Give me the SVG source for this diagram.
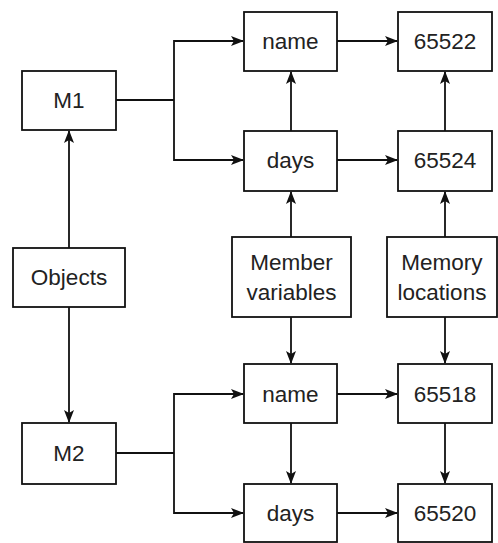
<svg xmlns="http://www.w3.org/2000/svg" width="498" height="543" viewBox="0 0 498 543">
<style>
.n rect{fill:#fff;stroke:#111;stroke-width:1.8}
.n text{font-family:"Liberation Sans",Arial,sans-serif;font-size:22.5px;fill:#222;text-anchor:middle}
.c path{fill:none;stroke:#111;stroke-width:1.8;marker-end:url(#a)}
.c path.p{marker-end:none}
</style>
<defs>
<marker id="a" viewBox="0 0 10 10" refX="10" refY="5" markerWidth="10" markerHeight="10" markerUnits="userSpaceOnUse" orient="auto" overflow="visible">
<path d="M-2,0 L11,5 L-2,10 L1,5 Z" fill="#111"/>
</marker>
</defs>
<rect width="498" height="543" fill="#fff"/>
<g class="c">
<path class="p" d="M116,100 H174"/>
<path d="M174,100 V41 H243"/>
<path d="M174,100 V160 H243"/>
<path class="p" d="M116,453 H174"/>
<path d="M174,453 V394 H243"/>
<path d="M174,453 V513 H243"/>
<path d="M69,248 V131"/>
<path d="M69,307 V422"/>
<path d="M337,41 H397"/>
<path d="M337,160 H397"/>
<path d="M337,394 H397"/>
<path d="M337,513 H397"/>
<path d="M291,131 V72"/>
<path d="M445,131 V72"/>
<path d="M291,237 V192"/>
<path d="M445,237 V192"/>
<path d="M291,317 V363"/>
<path d="M445,317 V363"/>
<path d="M291,423 V483"/>
<path d="M445,423 V483"/>
</g>
<g id="m1" class="n"><rect x="22" y="71" width="94" height="59"/><text x="69" y="108">M1</text></g>
<g id="objects" class="n"><rect x="13" y="248" width="112" height="59"/><text x="69" y="285">Objects</text></g>
<g id="m2" class="n"><rect x="22" y="423" width="94" height="61"/><text x="69" y="461">M2</text></g>
<g id="name1" class="n"><rect x="244" y="12" width="93" height="59"/><text x="290.5" y="49">name</text></g>
<g id="days1" class="n"><rect x="244" y="131" width="93" height="60"/><text x="290.5" y="168">days</text></g>
<g id="membervars" class="n"><rect x="232" y="237" width="119" height="80"/><text x="291.5" y="270">Member</text><text x="291.5" y="300">variables</text></g>
<g id="name2" class="n"><rect x="244" y="364" width="93" height="59"/><text x="290.5" y="402">name</text></g>
<g id="days2" class="n"><rect x="244" y="484" width="93" height="58"/><text x="290.5" y="521">days</text></g>
<g id="a65522" class="n"><rect x="398" y="12" width="94" height="59"/><text x="445" y="49">65522</text></g>
<g id="a65524" class="n"><rect x="398" y="131" width="94" height="60"/><text x="445" y="168">65524</text></g>
<g id="memloc" class="n"><rect x="387" y="237" width="110" height="80"/><text x="442" y="270">Memory</text><text x="442" y="300">locations</text></g>
<g id="a65518" class="n"><rect x="398" y="364" width="94" height="59"/><text x="445" y="402">65518</text></g>
<g id="a65520" class="n"><rect x="398" y="484" width="94" height="58"/><text x="445" y="521">65520</text></g>
</svg>
